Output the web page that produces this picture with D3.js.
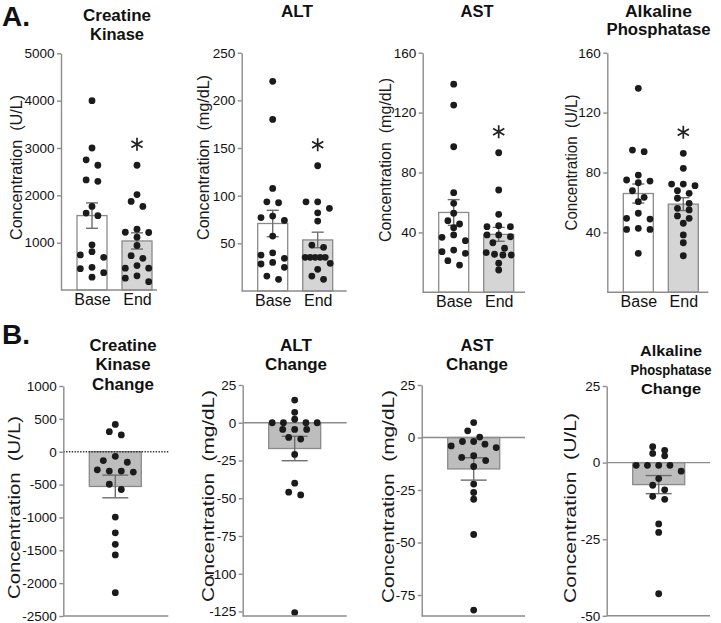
<!DOCTYPE html>
<html><head><meta charset="utf-8">
<script src="https://cdn.jsdelivr.net/npm/d3@7"></script>
<style>body{margin:0;background:#fff} svg{display:block}</style>
</head><body>
<svg id="chart" width="721" height="623"></svg>
<script>
// ---------------- DATA ----------------
const groups = ["Base", "End"];

// A. individual values (n = 17)
const ckBase = [4000, 3000, 2750, 2635, 2325, 2295, 1765, 1625, 1570, 955, 810, 740, 690, 480, 450, 365, 270];
const ckEnd  = [2635, 2015, 1870, 1765, 1285, 1215, 1220, 1115, 940, 725, 670, 460, 460, 515, 300, 250, 175];
const altBase = [220, 180, 107.6, 92.6, 93.6, 74, 77, 78.6, 57.6, 37.7, 40, 30, 34.3, 28.3, 24.8, 15.7, 12.2];
const altEnd  = [131.4, 93.6, 93.6, 86.7, 82, 73.4, 48.2, 45.8, 35.3, 35.3, 35.3, 35.3, 35.3, 29, 22.7, 15.7, 12.2];
const astBase = [139, 125, 97.2, 66.5, 59.4, 52.8, 45.6, 47.8, 43.1, 38.3, 34.5, 36.7, 28.2, 26, 27.1, 21.1, 18.2];
const astEnd  = [93.2, 68.3, 52.1, 43.8, 43.8, 44.5, 37.1, 38.3, 38.3, 33.1, 29.4, 24.9, 26.5, 24.9, 25.4, 19.4, 14.9];
const alpBase = [136.2, 95, 93.9, 78.3, 75, 74.3, 73.2, 67.8, 63.4, 60.5, 52.8, 49.4, 48.9, 42.7, 42, 42, 26];
const alpEnd  = [92.8, 82.8, 72.3, 71.2, 72.3, 66.1, 67.8, 59.4, 62.8, 56.1, 55, 49.4, 51, 46.1, 38.3, 33.1, 24.4];

// B. change values (End - Base)
const ckChange  = [415, 305, 255, -70, -135, -160, -275, -295, -295, -310, -495, -575, -995, -1235, -1410, -1570, -2145];
const altChange = [15, 6.9, 2.3, 0, 0, 0, 0, -4.4, -4.4, -4.4, -9.7, -10.8, -21, -40, -46, -47.8, -125.7];
const astChange = [7.1, 3.2, 0.2, -1.9, -1.9, -3.2, -4, -4.8, -8.7, -9.5, -11, -13.8, -22.2, -26.2, -29.4, -46.2, -82.2];
const alpChange = [5.2, 4, 3, 2.2, -0.9, -0.9, -0.9, -0.9, -2.8, -5.2, -7.4, -8.9, -11, -12, -20, -22.8, -42.8];

// tick labels
const ckTicks = [1000, 2000, 3000, 4000, 5000];
const altTicks = [50, 100, 150, 200, 250];
const astTicks = [40, 80, 120, 160];
const alpTicks = [40, 80, 120, 160];
const ckChangeTicks = [1000, 500, 0, -500, -1000, -1500, -2000, -2500];
const altChangeTicks = [25, 0, -25, -50, -75, -100, -125];
const astChangeTicks = [25, 0, -25, -50, -75];
const alpChangeTicks = [25, 0, -25, -50];

const titlesA = [["Creatine", "Kinase"], ["ALT"], ["AST"], ["Alkaline", "Phosphatase"]];
const titlesB = [["Creatine", "Kinase", "Change"], ["ALT", "Change"], ["AST", "Change"], ["Alkaline", "Phosphatase", "Change"]];
const unitLabels = ["Concentration  (U/L)", "Concentration  (mg/dL)", "Concentration  (mg/dL)", "Concentration  (U/L)"];

// ---------------- DRAWING ----------------
const svg = d3.select("#chart");
const FONT = "'Liberation Sans', Arial, Helvetica, sans-serif";
const AXIS = "#8c8c8c";
const DOT = "#1b1b1b";
const R = 3.4;
const fmt = d => String(d);

function sem(a) { return d3.deviation(a) / Math.sqrt(a.length); }

// Prism-like scatter: bin points by pixel height, spread each bin horizontally
function swarm(vals, y, cx, spacing, maxSpread, binH) {
  const pts = vals.map(v => ({v, py: y(v)})).sort((a, b) => a.py - b.py);
  const out = [];
  let i = 0;
  while (i < pts.length) {
    const start = pts[i].py, bin = [];
    while (i < pts.length && pts[i].py - start <= binH) { bin.push(pts[i]); i++; }
    const n = bin.length;
    const sp = n > 1 ? Math.min(spacing, maxSpread / (n - 1)) : 0;
    let offs = [];
    if (n % 2 === 1) { offs = [0]; for (let k = 1; k <= (n - 1) / 2; k++) offs.push(-k * sp, k * sp); }
    else { for (let k = 0; k < n; k++) offs.push((k - (n - 1) / 2) * sp); }
    bin.forEach((p, j) => out.push({v: p.v, x: cx + offs[j], y: p.py}));
  }
  return out;
}

function styleAxis(g) {
  g.select(".domain").attr("stroke", AXIS).attr("stroke-width", 1.4);
  g.selectAll(".tick line").attr("stroke", AXIS).attr("stroke-width", 1.4);
  g.selectAll(".tick text").attr("fill", "#111").style("font-family", FONT).style("font-size", "13.5px");
}

function yLabel(text, cx, cy, len) {
  svg.append("text")
    .attr("transform", `translate(${cx},${cy}) rotate(-90)`)
    .attr("text-anchor", "middle").attr("dominant-baseline", "central")
    .attr("textLength", len).attr("lengthAdjust", "spacingAndGlyphs")
    .style("white-space", "pre")
    .style("font-family", FONT).style("font-size", "16px").attr("fill", "#1a1a1a")
    .text(text);
}

function title(lines, cx, baselines, widths, size) {
  lines.forEach((t, i) => {
    svg.append("text").attr("x", cx).attr("y", baselines[i]).attr("text-anchor", "middle")
      .attr("textLength", widths[i]).attr("lengthAdjust", "spacingAndGlyphs")
      .style("font-family", FONT).style("font-size", size + "px").style("font-weight", "bold").attr("fill", "#111")
      .text(t);
  });
}

function errorBar(g, cx, m, s, y, cap) {
  const c = "#6e6e6e";
  g.append("line").attr("x1", cx).attr("x2", cx).attr("y1", y(m + s)).attr("y2", y(m - s)).attr("stroke", c).attr("stroke-width", 1.4);
  [m + s, m - s].forEach(v => g.append("line").attr("x1", cx - cap / 2).attr("x2", cx + cap / 2)
    .attr("y1", y(v)).attr("y2", y(v)).attr("stroke", c).attr("stroke-width", 1.4));
}

// ----- Row A -----
const panelsA = [
  {series: [ckBase, ckEnd], ticks: ckTicks, domain: [0, 5000], x0: 61, x1: 157, yTop: 53.3, yBot: 290,
   titleX: 117, titleY: [21, 40], titleW: [68, 54], lab: [16, 167.5, 145]},
  {series: [altBase, altEnd], ticks: altTicks, domain: [0, 250], x0: 241.7, x1: 346.7, yTop: 52.7, yBot: 291,
   titleX: 297, titleY: [16.5], titleW: [32], lab: [203, 157.5, 165]},
  {series: [astBase, astEnd], ticks: astTicks, domain: [0, 160], x0: 422.7, x1: 525, yTop: 52.7, yBot: 292.3,
   titleX: 477, titleY: [16.5], titleW: [33], lab: [385.5, 160, 164]},
  {series: [alpBase, alpEnd], ticks: alpTicks, domain: [0, 160], x0: 607.3, x1: 708.3, yTop: 52.7, yBot: 292.3,
   titleX: 658.5, titleY: [16.5, 34.5], titleW: [67, 104], lab: [571.5, 162.5, 136]},
];

panelsA.forEach((p, pi) => {
  const g = svg.append("g");
  const y = d3.scaleLinear().domain(p.domain).range([p.yBot, p.yTop]);
  const x = d3.scalePoint().domain(groups).range([p.x0 + 31, p.x0 + 76]);
  const bw = 30;

  p.series.forEach((vals, i) => {
    const m = d3.mean(vals), cx = x(groups[i]);
    g.append("rect").attr("x", cx - bw / 2).attr("width", bw).attr("y", y(m)).attr("height", y(0) - y(m))
      .attr("fill", i ? "#d5d5d5" : "#ffffff").attr("stroke", "#8a8a8a").attr("stroke-width", 1.3);
  });
  p.series.forEach((vals, i) => {
    const cx = x(groups[i]);
    errorBar(g, cx, d3.mean(vals), sem(vals), y, 12);
  });
  p.series.forEach((vals, i) => {
    const cx = x(groups[i]);
    g.selectAll(null).data(swarm(vals, y, cx, 11.7, 25, 6.6)).enter().append("circle")
      .attr("cx", d => d.x).attr("cy", d => d.y).attr("r", R).attr("fill", DOT);
  });

  // significance star above End group
  const endVals = p.series[1];
  g.append("path").attr("d", d3.symbol(d3.symbolAsterisk, 118)())
    .attr("transform", `translate(${x("End")},${y(d3.max(endVals)) - 21})`)
    .attr("fill", "none").attr("stroke", "#222").attr("stroke-width", 1.7);

  const ya = g.append("g").attr("transform", `translate(${p.x0},0)`)
    .call(d3.axisLeft(y).tickValues(p.ticks).tickFormat(fmt).tickSize(4).tickPadding(2.5).tickSizeOuter(0));
  styleAxis(ya);
  g.append("line").attr("x1", p.x0).attr("x2", p.x1).attr("y1", p.yBot).attr("y2", p.yBot)
    .attr("stroke", AXIS).attr("stroke-width", 1.4);
  const xa = g.append("g").attr("transform", `translate(0,${p.yBot})`)
    .call(d3.axisBottom(x).tickSize(0).tickPadding(3.5));
  xa.select(".domain").remove();
  xa.selectAll(".tick text").attr("fill", "#111").style("font-family", FONT).style("font-size", "16px");

  title(titlesA[pi], p.titleX, p.titleY, p.titleW, 16);
  yLabel(unitLabels[pi], p.lab[0], p.lab[1], p.lab[2]);
});

// ----- Row B -----
const panelsB = [
  {vals: ckChange, ticks: ckChangeTicks, domain: [-2500, 1000], x0: 63.3, x1: 168.3, yTop: 386, yBot: 616, dotted: true,
   titleX: 123, titleY: [350.5, 370, 389.5], titleW: [67, 55, 62], tsize: 16, lab: [14.5, 507.5, 183]},
  {vals: altChange, ticks: altChangeTicks, domain: [-128, 25], x0: 242.7, x1: 346.7, yTop: 385, yBot: 616, dotted: false,
   titleX: 296, titleY: [350.5, 370], titleW: [32, 62], tsize: 16, lab: [208.5, 496, 212]},
  {vals: astChange, ticks: astChangeTicks, domain: [-85, 25], x0: 421.7, x1: 525, yTop: 385, yBot: 616, dotted: false,
   titleX: 477, titleY: [350.5, 370], titleW: [33, 62], tsize: 16, lab: [388.5, 496.5, 213]},
  {vals: alpChange, ticks: alpChangeTicks, domain: [-50, 25], x0: 606.7, x1: 710, yTop: 386, yBot: 615.8, dotted: false,
   titleX: 671, titleY: [355.5, 374.5, 393.5], titleW: [62, 81, 60], tsize: 14.5, lab: [570, 508, 190]},
];

panelsB.forEach((p, pi) => {
  const g = svg.append("g");
  const y = d3.scaleLinear().domain(p.domain).range([p.yBot, p.yTop]);
  const cx = p.x0 + 52, bw = 52;
  const m = d3.mean(p.vals), s = sem(p.vals);

  g.append("rect").attr("x", cx - bw / 2).attr("width", bw).attr("y", y(0)).attr("height", y(m) - y(0))
    .attr("fill", "#bdbdbd").attr("stroke", "#8a8a8a").attr("stroke-width", 1.3);
  errorBar(g, cx, m, s, y, 26);

  const zl = g.append("line").attr("x1", p.x0).attr("x2", p.x1).attr("y1", y(0)).attr("y2", y(0));
  if (p.dotted) zl.attr("stroke", "#333").attr("stroke-width", 1.4).attr("stroke-dasharray", "1.4,1.4");
  else zl.attr("stroke", "#8c8c8c").attr("stroke-width", 1.4);

  g.selectAll(null).data(swarm(p.vals, y, cx, 12, 45, 6.6)).enter().append("circle")
    .attr("cx", d => d.x).attr("cy", d => d.y).attr("r", R).attr("fill", DOT);

  const ya = g.append("g").attr("transform", `translate(${p.x0},0)`)
    .call(d3.axisLeft(y).tickValues(p.ticks).tickFormat(fmt).tickSize(4).tickPadding(2.5).tickSizeOuter(0));
  styleAxis(ya);
  g.append("line").attr("x1", p.x0).attr("x2", p.x1).attr("y1", p.yBot).attr("y2", p.yBot)
    .attr("stroke", AXIS).attr("stroke-width", 1.4);

  title(titlesB[pi], p.titleX, p.titleY, p.titleW, p.tsize);
  yLabel(unitLabels[pi], p.lab[0], p.lab[1], p.lab[2]);
});

// Panel letters
svg.append("text").attr("x", 2).attr("y", 25.5).style("font-family", FONT).style("font-size", "28px")
  .style("font-weight", "bold").attr("fill", "#111").text("A.");
svg.append("text").attr("x", 2).attr("y", 343.5).style("font-family", FONT).style("font-size", "28px")
  .style("font-weight", "bold").attr("fill", "#111").text("B.");
</script>
</body></html>
